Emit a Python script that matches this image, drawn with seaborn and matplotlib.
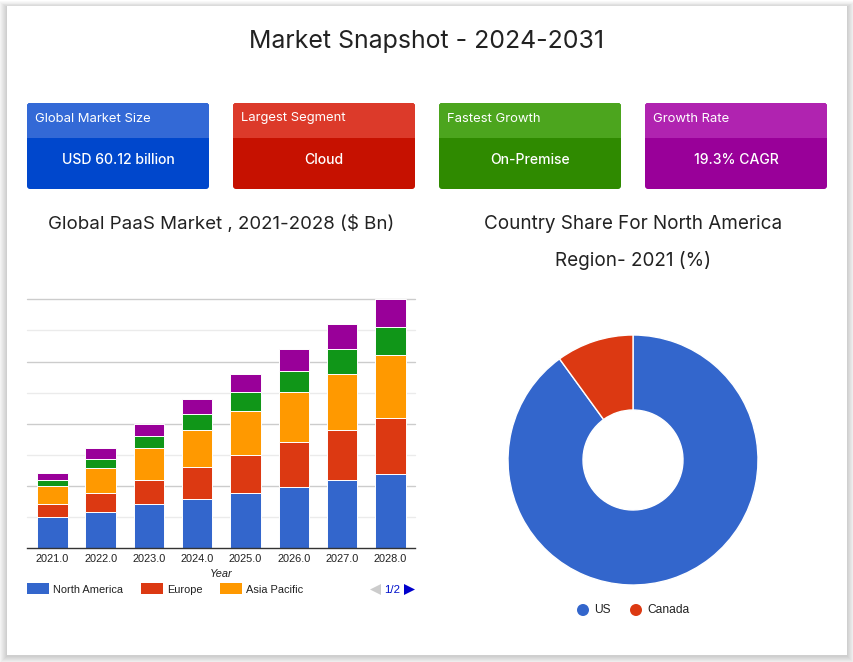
import matplotlib
matplotlib.use("Agg")
import matplotlib.pyplot as plt
import numpy as np
import seaborn as sns
from matplotlib.patches import FancyBboxPatch, Polygon, Rectangle, Circle

years = ["2021.0", "2022.0", "2023.0", "2024.0", "2025.0", "2026.0", "2027.0", "2028.0"]
north_america = [9.9, 11.8, 14.1, 16.0, 17.9, 19.8, 21.8, 24.0]
europe = [4.2, 6.1, 7.7, 10.0, 12.0, 14.2, 16.1, 18.0]
asia_pacific = [5.9, 8.0, 10.3, 11.9, 14.1, 16.1, 18.0, 20.0]
series_four = [1.8, 2.9, 3.9, 5.2, 6.1, 6.8, 8.0, 9.0]
series_five = [2.3, 3.3, 4.0, 4.9, 5.9, 7.2, 8.1, 9.1]
bar_colors = ["#3366cc", "#dc3912", "#ff9900", "#109618", "#990099"]
legend_names = ["North America", "Europe", "Asia Pacific"]

countries = ["US", "Canada"]
country_share = [90, 10]

cards = [
    ("Global Market Size", "USD 60.12 billion", "#3369d6", "#0047cc"),
    ("Largest Segment", "Cloud", "#dc3a2a", "#c61100"),
    ("Fastest Growth", "On-Premise", "#4ca51e", "#2f8a00"),
    ("Growth Rate", "19.3% CAGR", "#b023b0", "#990099"),
]

W, H = 854, 662
TITLE_FONT = "Inter"


def px_axes(fig, left, top, right, bottom):
    return fig.add_axes([left / W, 1 - bottom / H, (right - left) / W, (bottom - top) / H])


def pt(px):
    return px * 0.72


sns.set_theme(style="white")
plt.rcParams["font.family"] = ["Liberation Sans", "DejaVu Sans"]

fig = plt.figure(figsize=(8.54, 6.62), dpi=100)

# page background, card and its shadow
bg = fig.add_axes([0, 0, 1, 1])
bg.set_xlim(0, W)
bg.set_ylim(H, 0)
bg.axis("off")
for i in range(8, 0, -1):
    bg.add_patch(Rectangle((7 - i, 7 - i * 0.7), 840 + 2 * i, 649 + 1.7 * i,
                           facecolor="#000000", alpha=0.022, linewidth=0))
bg.add_patch(Rectangle((7, 6), 840, 649, facecolor="white", linewidth=0))

bg.text(427, 41.5, "Market Snapshot - 2024-2031", family=TITLE_FONT, fontsize=pt(24.9),
        ha="center", va="center", color="#222222")

for i, (head, value, head_color, body_color) in enumerate(cards):
    x0 = 27 + i * 206
    bg.add_patch(FancyBboxPatch((x0, 103), 182, 86, boxstyle="round,pad=0,rounding_size=3",
                                facecolor=body_color, linewidth=0))
    bg.add_patch(FancyBboxPatch((x0, 103), 182, 20, boxstyle="round,pad=0,rounding_size=3",
                                facecolor=head_color, linewidth=0))
    bg.add_patch(Rectangle((x0, 113), 182, 25, facecolor=head_color, linewidth=0))
    bg.text(x0 + 8, 118.5, head, family=TITLE_FONT, fontsize=pt(13), ha="left", va="center", color="white")
    bg.text(x0 + 91, 160, value, family=TITLE_FONT, fontsize=pt(14), ha="center", va="center",
            color="white", fontweight="medium")

bg.text(221, 224, "Global PaaS Market , 2021-2028 ($ Bn)", family=TITLE_FONT, fontsize=pt(18.7),
        ha="center", va="center", color="#222222")
bg.text(633, 224, "Country Share For North America", family=TITLE_FONT, fontsize=pt(18.9),
        ha="center", va="center", color="#222222")
bg.text(633, 260, "Region- 2021 (%)", family=TITLE_FONT, fontsize=pt(18.9),
        ha="center", va="center", color="#222222")

# stacked bars
ax = px_axes(fig, 27, 299.3, 415, 548.3)
ax.patch.set_alpha(0)
bottom = np.zeros(len(years))
for vals, color in zip([north_america, europe, asia_pacific, series_four, series_five], bar_colors):
    sns.barplot(x=years, y=vals, bottom=bottom, color=color, saturation=1, width=0.63,
                edgecolor="white", linewidth=0.7, ax=ax, zorder=3)
    bottom = bottom + np.array(vals)
ax.set_xlim(-0.525, 7.51)
ax.set_ylim(0, 80)
ax.set_yticks(range(10, 90, 10))
ax.set_yticklabels([])
ax.grid(False)
for v in range(10, 90, 10):
    ax.axhline(v, color="#cccccc" if v % 20 == 0 else "#ebebeb", linewidth=1, zorder=1, clip_on=False)
sns.despine(ax=ax, left=True, top=True, right=True)
ax.spines["bottom"].set_color("#333333")
ax.spines["bottom"].set_linewidth(1)
ax.spines["bottom"].set_zorder(5)
ax.tick_params(axis="both", length=0, pad=4, labelsize=pt(11), labelcolor="#222222")
ax.set_xlabel("Year", fontsize=pt(11), style="italic", color="#222222", labelpad=4)
ax.set_ylabel("")

# legend under the bars
for name, color, x0 in zip(legend_names, bar_colors, [27, 141, 220]):
    bg.add_patch(Rectangle((x0, 583), 22, 11, facecolor=color, linewidth=0))
    bg.text(x0 + 26, 590, name, fontsize=pt(11), ha="left", va="center", color="#222222")
bg.add_patch(Polygon([[370, 589.5], [381, 584], [381, 595]], facecolor="#cccccc", linewidth=0))
bg.add_patch(Polygon([[404, 584], [415, 589.5], [404, 595]], facecolor="#0000cc", linewidth=0))
bg.text(392.5, 590, "1/2", fontsize=pt(11.5), ha="center", va="center", color="#0011cc")

# donut
pie_ax = px_axes(fig, 508, 335, 758, 585)
pie_ax.pie(country_share, colors=bar_colors[:2], startangle=90, counterclock=False, radius=1,
           wedgeprops={"width": 0.6, "edgecolor": "white", "linewidth": 1})
pie_ax.set_xlim(-1, 1)
pie_ax.set_ylim(-1, 1)

for name, color, x0 in zip(countries, bar_colors[:2], [583, 636]):
    bg.add_patch(Circle((x0, 610), 6, facecolor=color, linewidth=0))
    bg.text(x0 + 11, 610, name, fontsize=pt(12), ha="left", va="center", color="#222222")

fig.savefig("out.png", dpi=100)
